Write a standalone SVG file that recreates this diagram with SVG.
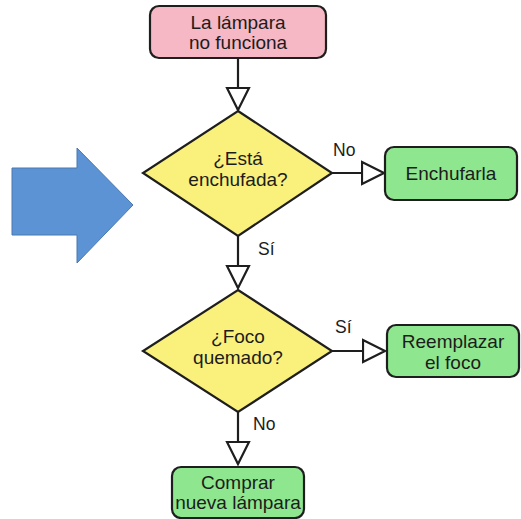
<svg xmlns="http://www.w3.org/2000/svg" width="521" height="519" viewBox="0 0 521 519">
  <defs>
    <style>
      .box { stroke: #1e1e1e; stroke-width: 2.2; }
      .start { fill: #f5b8c4; }
      .end { fill: #8ee68e; }
      .decision { fill: #faf07c; stroke: #1e1e1e; stroke-width: 2.2; stroke-linejoin: miter; }
      .lbl { font-family: "Liberation Sans", Arial, sans-serif; font-size: 19px; fill: #1c1c1c; text-anchor: middle; }
      .edge-lbl { font-family: "Liberation Sans", Arial, sans-serif; font-size: 17.5px; fill: #1c1c1c; }
      .conn { stroke: #1e1e1e; stroke-width: 2.2; fill: none; marker-end: url(#open-tri); }
    </style>
    <marker id="open-tri" markerUnits="userSpaceOnUse" markerWidth="26" markerHeight="26" refX="23" refY="12" orient="auto" viewBox="0 0 26 24">
      <path d="M1,1 L23,12 L1,23 Z" fill="#ffffff" stroke="#1e1e1e" stroke-width="2.2" stroke-linejoin="miter"/>
    </marker>
  </defs>
  <rect width="521" height="519" fill="#ffffff"/>

  <!-- big blue pointer arrow -->
  <g id="pointer">
    <path d="M12,168 L77,168 L77,148 L133,205 L77,263 L77,235 L12,235 Z" fill="#5b93d4" stroke="#4a78b0" stroke-width="1"/>
  </g>

  <!-- connectors -->
  <g id="connectors">
    <path class="conn" d="M238,58 L238,110"/>
    <path class="conn" d="M332,173 L384,173"/>
    <path class="conn" d="M238,236 L238,288"/>
    <path class="conn" d="M332,351 L385,351"/>
    <path class="conn" d="M238,412 L238,464"/>
    <text class="edge-lbl" x="333" y="156">No</text>
    <text class="edge-lbl" x="258" y="255">Sí</text>
    <text class="edge-lbl" x="335" y="333">Sí</text>
    <text class="edge-lbl" x="253" y="430">No</text>
  </g>

  <g id="start">
    <rect class="box start" x="150" y="6" width="176" height="52" rx="9"/>
    <text class="lbl" x="238" y="29">La lámpara</text>
    <text class="lbl" x="238" y="49">no funciona</text>
  </g>

  <g id="plugged">
    <polygon class="decision" points="238,111 332,173 238,236 143,173"/>
    <text class="lbl" x="238" y="165">¿Está</text>
    <text class="lbl" x="238" y="186">enchufada?</text>
  </g>

  <g id="plug-in">
    <rect class="box end" x="385" y="147" width="132" height="53" rx="9"/>
    <text class="lbl" x="451" y="180">Enchufarla</text>
  </g>

  <g id="bulb">
    <polygon class="decision" points="238,290 332,351 238,412 143,351"/>
    <text class="lbl" x="238" y="343">¿Foco</text>
    <text class="lbl" x="238" y="364">quemado?</text>
  </g>

  <g id="replace">
    <rect class="box end" x="387" y="325" width="132" height="52" rx="9"/>
    <text class="lbl" x="453" y="348">Reemplazar</text>
    <text class="lbl" x="453" y="369">el foco</text>
  </g>

  <g id="buy">
    <rect class="box end" x="172" y="467" width="132" height="51" rx="9"/>
    <text class="lbl" x="238" y="489">Comprar</text>
    <text class="lbl" x="238" y="509">nueva lámpara</text>
  </g>
</svg>
